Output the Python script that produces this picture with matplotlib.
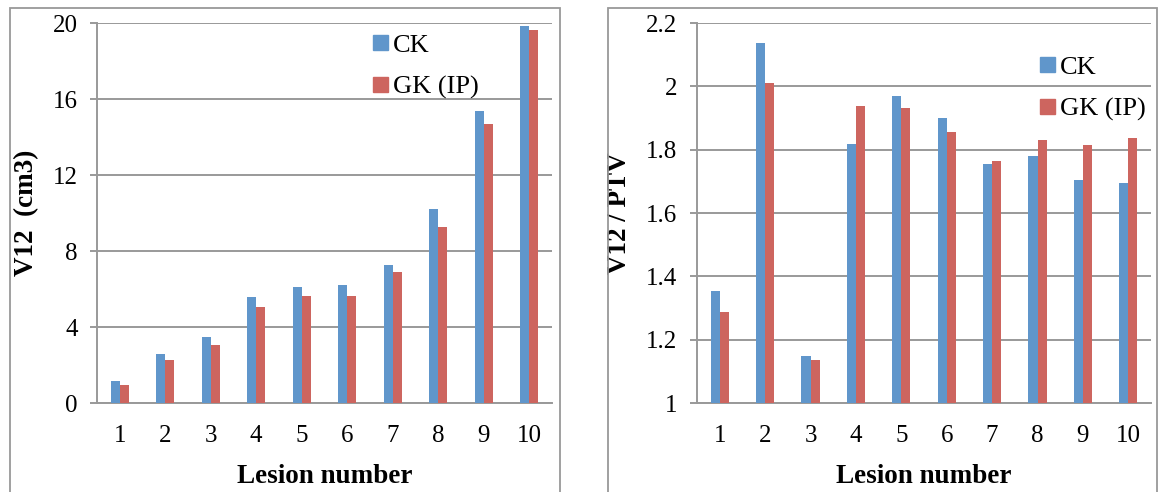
import matplotlib
matplotlib.use("Agg")
import matplotlib.pyplot as plt
from matplotlib.patches import Rectangle, Patch
import numpy as np

# lesion data
lesions = ["1", "2", "3", "4", "5", "6", "7", "8", "9", "10"]
v12_ck = [1.16, 2.57, 3.48, 5.59, 6.10, 6.19, 7.24, 10.23, 15.38, 19.86]
v12_gk = [0.93, 2.25, 3.04, 5.03, 5.62, 5.62, 6.87, 9.26, 14.69, 19.63]
ratio_ck = [1.355, 2.137, 1.150, 1.817, 1.969, 1.901, 1.755, 1.779, 1.703, 1.694]
ratio_gk = [1.286, 2.009, 1.137, 1.939, 1.932, 1.855, 1.765, 1.829, 1.815, 1.837]

left_ticks = [0, 4, 8, 12, 16, 20]
right_ticks = [1, 1.2, 1.4, 1.6, 1.8, 2, 2.2]
right_ticklabels = ["1", "1.2", "1.4", "1.6", "1.8", "2", "2.2"]

BLUE = "#6096CB"
RED = "#CD655F"
GRID = "#999999"
W, H = 1158, 492

plt.rcParams["font.family"] = ["Liberation Serif", "DejaVu Serif"]

fig = plt.figure(figsize=(W / 100, H / 100), dpi=100)

# panel frames
for x0, x1 in [(10, 560), (608, 1157)]:
    fig.patches.append(Rectangle((x0 / W, -0.05), (x1 - x0) / W, (H - 8) / H + 0.05,
                                 transform=fig.transFigure, fill=False,
                                 edgecolor=GRID, lw=1.3))


def panel(rect, ck, gk, ylim, yticks, yticklabels, ylabel, leg_xy):
    ax = fig.add_axes([rect[0] / W, 1 - rect[3] / H,
                       (rect[2] - rect[0]) / W, (rect[3] - rect[1]) / H])
    x = np.arange(1, len(lesions) + 1)
    bw = 0.2
    ax.bar(x - bw / 2, np.array(ck) - ylim[0], bw, bottom=ylim[0], color=BLUE,
           label="CK", zorder=3)
    ax.bar(x + bw / 2, np.array(gk) - ylim[0], bw, bottom=ylim[0], color=RED,
           label="GK (IP)", zorder=3)
    ax.set_xlim(0.5, len(lesions) + 0.5)
    ax.set_ylim(*ylim)
    ax.set_xticks(x)
    ax.set_xticklabels(lesions)
    ax.set_yticks(yticks)
    ax.set_yticklabels(yticklabels)
    ax.yaxis.grid(True, color=GRID, lw=1.4, zorder=0)
    ax.set_axisbelow(True)
    for s in ["top", "right"]:
        ax.spines[s].set_visible(False)
    for s in ["left", "bottom"]:
        ax.spines[s].set_color(GRID)
        ax.spines[s].set_linewidth(1.4)
    ax.tick_params(axis="y", length=5, width=1.4, color=GRID, pad=9, labelsize=18)
    ax.tick_params(axis="x", length=0, pad=16, labelsize=18)
    ax.set_xlabel("Lesion number", fontsize=19.5, fontweight="bold", labelpad=12)
    ax.set_ylabel(ylabel, fontsize=19.5, fontweight="bold", labelpad=10)
    handles = [Patch(color=BLUE), Patch(color=RED)]
    ax.legend(handles, ["CK", "GK (IP)"], loc="upper left",
              bbox_to_anchor=(leg_xy[0] / W, 1 - leg_xy[1] / H),
              bbox_transform=fig.transFigure, frameon=False, fontsize=19,
              handlelength=0.55, handleheight=0.5, handletextpad=0.2,
              labelspacing=0.72, borderpad=0, borderaxespad=0)
    return ax


panel((97, 23, 552, 403), v12_ck, v12_gk, (0, 20), left_ticks,
      [str(t) for t in left_ticks], "V12  (cm3)", (373, 35))
panel((697, 23, 1151, 403), ratio_ck, ratio_gk, (1, 2.2), right_ticks,
      right_ticklabels, "V12 / PTV", (1040, 57))

fig.savefig("out.png", dpi=100)
